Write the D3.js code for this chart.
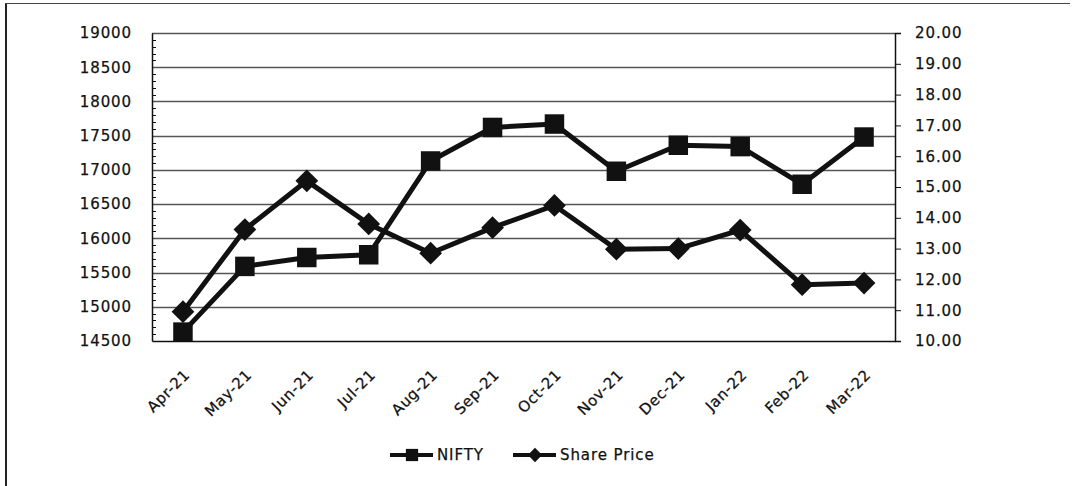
<!DOCTYPE html>
<html><head><meta charset="utf-8">
<script src="https://cdn.jsdelivr.net/npm/d3@7"></script>
<style>
html,body{margin:0;padding:0;background:#fff;}
text{font-family:"DejaVu Sans",sans-serif;fill:#111;stroke:#111;stroke-width:0.25px;}
</style></head>
<body><svg id="c" width="1075" height="486"></svg>
<script>
const categories = ["Apr-21","May-21","Jun-21","Jul-21","Aug-21","Sep-21","Oct-21","Nov-21","Dec-21","Jan-22","Feb-22","Mar-22"];
const nifty = [14630, 15590, 15720, 15760, 17130, 17620, 17670, 16980, 17360, 17340, 16790, 17480];
const sharePrice = [10.95, 13.62, 15.20, 13.80, 12.85, 13.68, 14.40, 12.98, 13.00, 13.60, 11.83, 11.88];
const leftTicks = [14500,15000,15500,16000,16500,17000,17500,18000,18500,19000];
const rightTicks = [10,11,12,13,14,15,16,17,18,19,20];
const seriesNames = ["NIFTY","Share Price"];

const svg = d3.select("#c");
const M = {l:152, r:895, t:33, b:341};
const ink = "#111";

// outer border
svg.append("line").attr("x1",6).attr("x2",6).attr("y1",3).attr("y2",486).attr("stroke","#222").attr("stroke-width",2);
svg.append("line").attr("x1",5).attr("x2",1070).attr("y1",3.5).attr("y2",3.5).attr("stroke","#444").attr("stroke-width",1);

const x = d3.scaleBand().domain(categories).range([M.l, M.r]);
const yL = d3.scaleLinear().domain([14500,19000]).range([M.b, M.t]);
const yR = d3.scaleLinear().domain([10,20]).range([M.b, M.t]);

// gridlines
svg.append("g").selectAll("line").data(leftTicks.slice(1)).join("line")
  .attr("x1",M.l).attr("x2",M.r).attr("y1",d=>Math.round(yL(d))+0.5).attr("y2",d=>Math.round(yL(d))+0.5)
  .attr("stroke","#555").attr("stroke-width",1.3);

// left axis
const gL = svg.append("g").attr("transform",`translate(${M.l},0)`);
gL.call(d3.axisLeft(yL).tickValues(leftTicks).tickSize(0).tickPadding(20).tickFormat(d3.format("d")));
gL.select(".domain").attr("stroke",ink).attr("stroke-width",1.5);
gL.selectAll("text").attr("font-size",15).attr("letter-spacing","0.9px").attr("font-family","DejaVu Sans").attr("fill",ink);
// minor ticks inside
const minor = d3.range(14600,19000,100).filter(v=>v%500!==0);
gL.append("g").selectAll("line").data(minor).join("line")
  .attr("x1",0).attr("x2",4).attr("y1",d=>Math.round(yL(d))+0.5).attr("y2",d=>Math.round(yL(d))+0.5)
  .attr("stroke",ink).attr("stroke-width",1);

// right axis
const gR = svg.append("g").attr("transform",`translate(${M.r},0)`);
gR.call(d3.axisRight(yR).tickValues(rightTicks).tickSize(6).tickPadding(14).tickFormat(d3.format(".2f")));
gR.select(".domain").attr("stroke",ink).attr("stroke-width",1.5);
gR.selectAll(".tick line").attr("stroke",ink);
gR.selectAll("text").attr("font-size",15).attr("letter-spacing","0.9px").attr("font-family","DejaVu Sans").attr("fill",ink);

// bottom axis
const gB = svg.append("g").attr("transform",`translate(0,${M.b})`);
gB.call(d3.axisBottom(x).tickSize(0).tickPadding(0));
gB.select(".domain").attr("stroke",ink).attr("stroke-width",1.5);
gB.selectAll("text")
  .attr("font-size",15).attr("letter-spacing","0.6px").attr("font-family","DejaVu Sans").attr("fill",ink)
  .attr("text-anchor","end").attr("dy","0.35em")
  .attr("transform","translate(4,31) rotate(-45)");

// lines
const cx = d => x(d) + x.bandwidth()/2;
const lineL = d3.line().x((d,i)=>cx(categories[i])).y(d=>yL(d));
const lineR = d3.line().x((d,i)=>cx(categories[i])).y(d=>yR(d));
svg.append("path").datum(nifty).attr("d",lineL).attr("fill","none").attr("stroke",ink).attr("stroke-width",5).attr("stroke-linejoin","round");
svg.append("path").datum(sharePrice).attr("d",lineR).attr("fill","none").attr("stroke",ink).attr("stroke-width",5).attr("stroke-linejoin","round");

const sq = d3.symbol().type(d3.symbolSquare).size(380);
const dm = d3.symbol().type(d3.symbolDiamond2).size(330);
svg.append("g").selectAll("path").data(nifty).join("path")
  .attr("d",sq).attr("transform",(d,i)=>`translate(${cx(categories[i])},${yL(d)})`).attr("fill",ink);
svg.append("g").selectAll("path").data(sharePrice).join("path")
  .attr("d",dm).attr("transform",(d,i)=>`translate(${cx(categories[i])},${yR(d)})`).attr("fill",ink);

// legend
const leg = svg.append("g");
const items = [{name:seriesNames[0], x0:390, sym:d3.symbol().type(d3.symbolSquare).size(150)},
               {name:seriesNames[1], x0:513, sym:d3.symbol().type(d3.symbolDiamond2).size(130)}];
items.forEach(it=>{
  const gi = leg.append("g").attr("transform",`translate(${it.x0},455)`);
  gi.append("line").attr("x1",0).attr("x2",43).attr("stroke",ink).attr("stroke-width",4);
  gi.append("path").attr("d",it.sym).attr("transform","translate(22,0)").attr("fill",ink);
  gi.append("text").attr("x",47).attr("dy","0.35em").attr("font-size",15).attr("letter-spacing","0.9px").text(it.name);
});
</script></body></html>
